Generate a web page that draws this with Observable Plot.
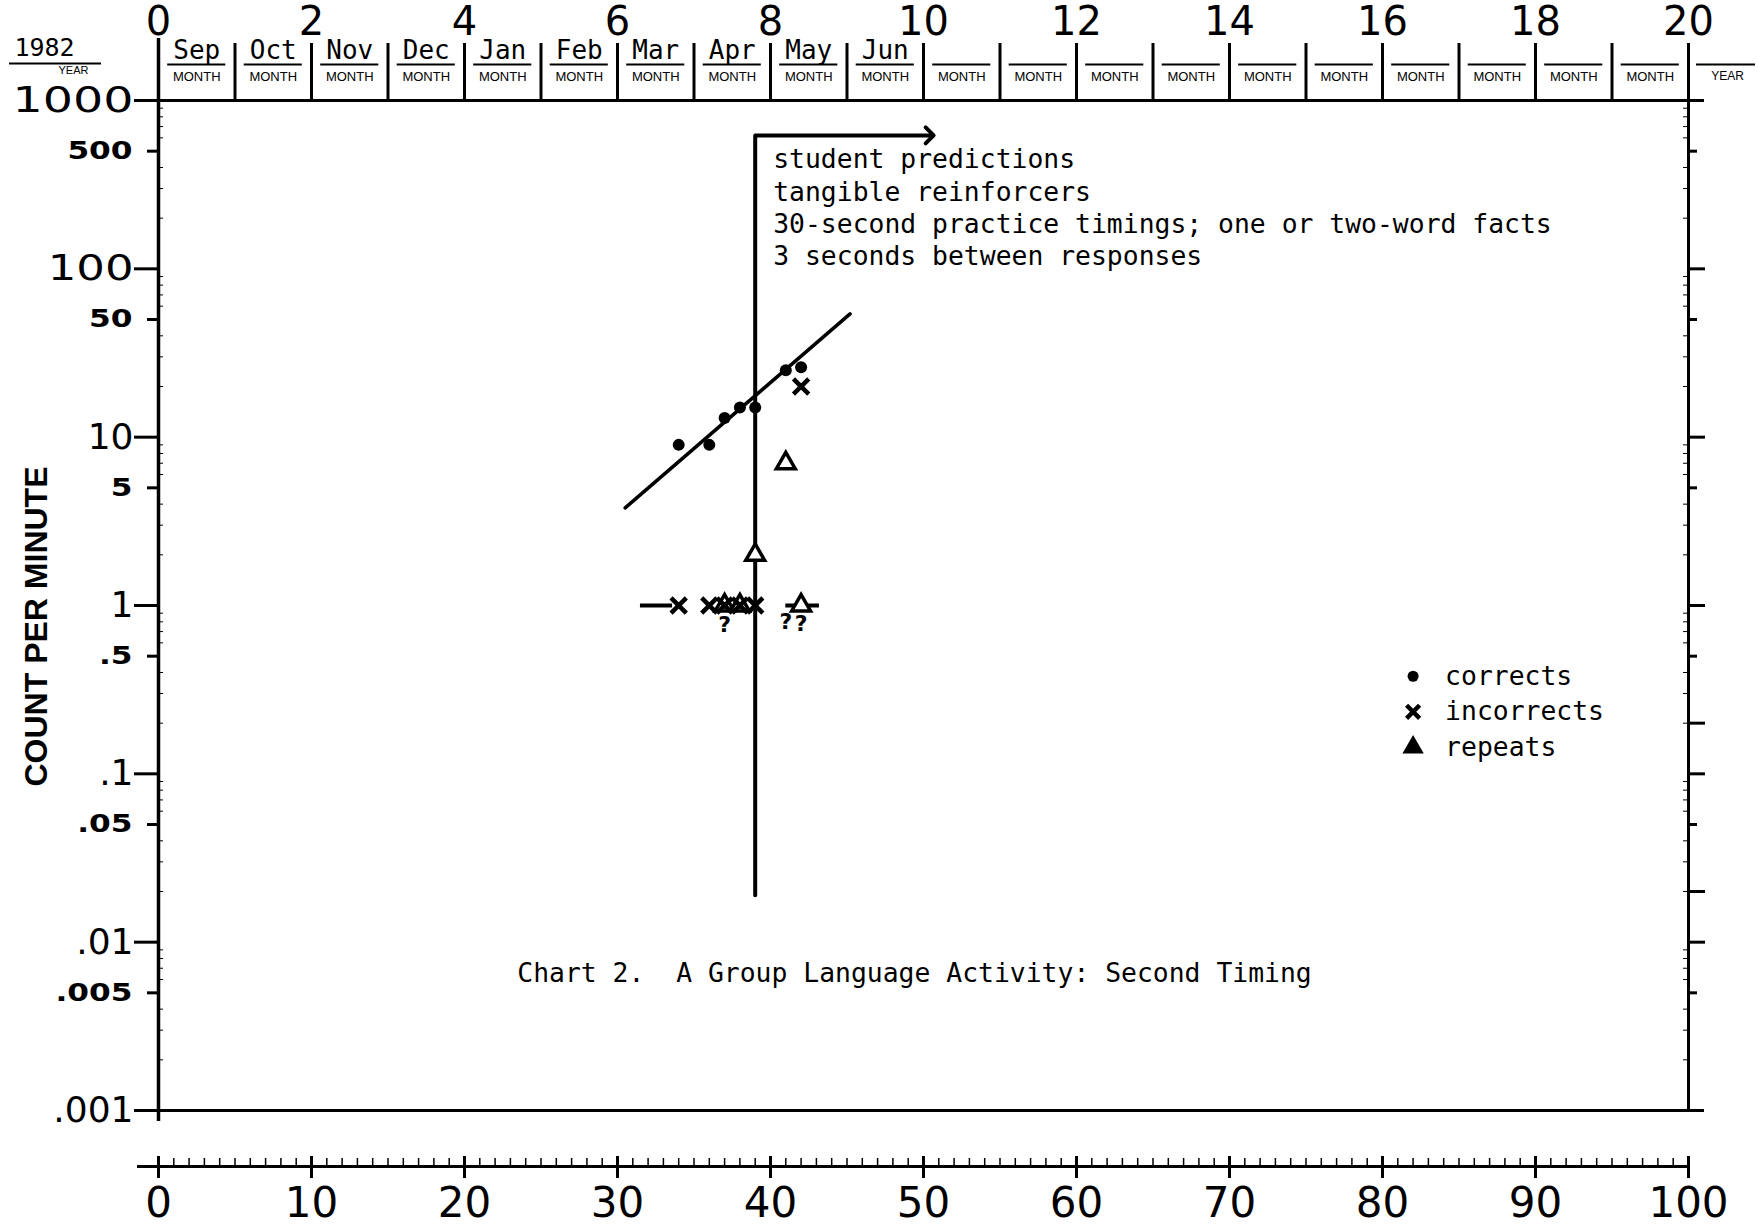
<!DOCTYPE html>
<html><head><meta charset="utf-8">
<script src="https://cdn.jsdelivr.net/npm/d3@7"></script>
<script src="https://cdn.jsdelivr.net/npm/@observablehq/plot@0.6"></script>
<style>
html,body{margin:0;padding:0;background:#fff;}
#chart svg text{white-space:pre;}
</style></head><body><div id="chart"></div>
<script>
// ---------- data ----------
const correctDays = [34, 36, 37, 38, 39, 41, 42];
const correctValues = [9, 9, 13, 15, 15, 25, 26];
const incorrectDays = [34, 36, 37, 38, 39, 42];
const incorrectValues = [1, 1, 1, 1, 1, 20];
const repeatDays = [37, 38, 39, 41, 42];
const repeatValues = [1, 1, 2, 7, 1];
const zeroDays = [37, 41, 42];          // "?" marks just below the record floor
const zeroValues = [0.77, 0.8, 0.78];
const floorStarts = [31.5, 41];         // record floor segments (days)
const floorEnds = [33.6, 43.2];
const recordFloor = 1;
const celerationDays = [30.5, 45.2];
const celerationValues = [3.8, 54];
const phaseDay = 39, phaseBottom = 0.019, phaseTop = 620, phaseArrowEnd = 50.4;

const annotationLines = [
  "student predictions",
  "tangible reinforcers",
  "30-second practice timings; one or two-word facts",
  "3 seconds between responses"
];
const caption = "Chart 2.  A Group Language Activity: Second Timing";
const legendLabels = ["corrects", "incorrects", "repeats"];
const yTitle = "COUNT PER MINUTE";

const monthNames = ["Sep","Oct","Nov","Dec","Jan","Feb","Mar","Apr","May","Jun","","","","","","","","","",""];
const yearLabel = "1982";
const weekTicks = [0, 2, 4, 6, 8, 10, 12, 14, 16, 18, 20];
const dayTicks = [0, 10, 20, 30, 40, 50, 60, 70, 80, 90, 100];
const yMajor = [1000, 100, 10, 1, 0.1, 0.01, 0.001];
const yMajorLabels = ["1000", "100", "10", "1", ".1", ".01", ".001"];
const yHalf = [500, 50, 5, 0.5, 0.05, 0.005];
const yHalfLabels = ["500", "50", "5", ".5", ".05", ".005"];
const rightExtraTicks = [0.2, 0.02];

// ---------- derived tick helpers ----------
const dailyTicks = d3.range(1, 100);
const boxEdges = d3.range(5, 100, 5);
const minorTicks = [];
[0.001, 0.01, 0.1, 1, 10, 100].forEach(dec => [2, 3, 4, 6, 7, 8, 9].forEach(m => minorTicks.push(dec * m)));

const W = 1758, H = 1228;
const MONO = "DejaVu Sans Mono";
const NUM = "DejaVu Sans";
const SANS = "Liberation Sans";

const legendDay = 82, legendY0 = 0.38, legendRatio = 0.615;

const plot = Plot.plot({
  width: W, height: H,
  marginTop: 100, marginBottom: 118, marginLeft: 158, marginRight: 70,
  x: {domain: [0, 100], axis: null},
  y: {type: "log", domain: [0.001, 1000], axis: null},
  style: {background: "white", color: "black", overflow: "visible"},
  marks: [
    // chart frame
    Plot.ruleY([1000], {insetRight: -16, strokeWidth: 3}),
    Plot.ruleY([0.001], {insetRight: -16, strokeWidth: 3}),
    Plot.ruleX([0], {insetTop: -62, insetBottom: -11, strokeWidth: 3.5}),
    Plot.ruleX([100], {insetTop: -57, strokeWidth: 3}),
    // header boxes
    Plot.ruleX(boxEdges, {x: d => d, y1: () => 1000, y2: () => 1000, insetBottom: 57, strokeWidth: 3}),
    Plot.ruleY(monthNames, {x1: (d, i) => 5 * i + 0.6, x2: (d, i) => 5 * i + 4.4, y: () => 1000, dy: -36, strokeWidth: 2}),
    Plot.text(monthNames, {x: (d, i) => 5 * i + 2.5, frameAnchor: "top", lineAnchor: "middle", dy: -50, text: d => d, fontFamily: MONO, fontSize: 26}),
    Plot.text(monthNames, {x: (d, i) => 5 * i + 2.5, frameAnchor: "top", lineAnchor: "middle", dy: -24, text: () => "MONTH", fontFamily: SANS, fontSize: 13}),
    Plot.text([yearLabel], {x: () => 0, frameAnchor: "top", lineAnchor: "middle", dx: -114, dy: -53, text: d => d, fontFamily: MONO, fontSize: 25}),
    Plot.ruleY([yearLabel], {x1: () => 0, x2: () => 0, y: () => 1000, insetLeft: -149, insetRight: 57, dy: -37, strokeWidth: 2}),
    Plot.text([yearLabel], {x: () => 0, frameAnchor: "top", lineAnchor: "middle", dx: -85, dy: -30, text: () => "YEAR", fontFamily: SANS, fontSize: 11}),
    Plot.ruleY(["YEAR"], {x1: () => 100, x2: () => 100, y: () => 1000, insetLeft: 8, insetRight: -67, dy: -36, strokeWidth: 2}),
    Plot.text(["YEAR"], {x: () => 100, frameAnchor: "top", lineAnchor: "middle", dx: 39, dy: -24, text: d => d, fontFamily: SANS, fontSize: 12}),
    Plot.text(weekTicks, {x: d => d * 5, frameAnchor: "top", lineAnchor: "middle", dy: -78, text: d => String(d), fontFamily: NUM, fontSize: 40}),
    // left axis ticks and labels
    Plot.ruleY(yMajor, {x1: () => 0, x2: () => 0, y: d => d, insetLeft: -24, strokeWidth: 3}),
    Plot.ruleY(yHalf, {x1: () => 0, x2: () => 0, y: d => d, insetLeft: -11, strokeWidth: 3}),
    Plot.ruleY(minorTicks, {x1: () => 0, x2: () => 0, y: d => d, insetRight: -5, strokeWidth: 1}),
    Plot.text(yMajor, {x: () => 0, y: d => d, text: (d, i) => yMajorLabels[i], textAnchor: "end", dx: -25, fontFamily: NUM, fontSize: 36, ariaDescription: "ymajor"}),
    Plot.text(yHalf, {x: () => 0, y: d => d, text: (d, i) => yHalfLabels[i], textAnchor: "end", dx: -26, fontFamily: NUM, fontWeight: "bold", fontSize: 24, ariaDescription: "yhalf"}),
    Plot.text([yTitle], {frameAnchor: "left", textAnchor: "middle", lineAnchor: "middle", dx: -122, dy: 21, rotate: -90, text: d => d, fontFamily: SANS, fontWeight: "bold", fontSize: 32}),
    // right axis ticks
    Plot.ruleY(yMajor.slice(1, -1).concat(rightExtraTicks), {x1: () => 100, x2: () => 100, y: d => d, insetRight: -17, strokeWidth: 3}),
    Plot.ruleY(yHalf, {x1: () => 100, x2: () => 100, y: d => d, insetRight: -9, strokeWidth: 3}),
    Plot.ruleY(minorTicks, {x1: () => 100, x2: () => 100, y: d => d, insetLeft: -5, strokeWidth: 1}),
    // bottom day axis
    Plot.ruleY([0.001], {dy: 56, insetLeft: -21, strokeWidth: 3}),
    Plot.ruleX(dailyTicks, {x: d => d, y1: () => 0.001, y2: () => 0.001, insetTop: 48, insetBottom: -56, strokeWidth: 1.5}),
    Plot.ruleX(dayTicks, {x: d => d, y1: () => 0.001, y2: () => 0.001, insetTop: 46, insetBottom: -68, strokeWidth: 3}),
    Plot.text(dayTicks, {x: d => d, frameAnchor: "bottom", lineAnchor: "middle", dy: 93, text: d => String(d), fontFamily: NUM, fontSize: 42}),
    // phase change line with arrow
    Plot.line([[phaseDay, phaseBottom], [phaseDay, phaseTop], [phaseArrowEnd, phaseTop]], {x: d => d[0], y: d => d[1], strokeWidth: 4, markerEnd: "arrow"}),
    Plot.text([annotationLines.join("\n")], {x: () => phaseDay, y: () => phaseTop, dx: 18, dy: 10, textAnchor: "start", lineAnchor: "top", lineHeight: 1.22, text: d => d, fontFamily: MONO, fontSize: 26.4}),
    // celeration line and record floor
    Plot.line(celerationDays, {x: d => d, y: (d, i) => celerationValues[i], strokeWidth: 3.5}),
    Plot.ruleY(floorStarts, {x1: d => d, x2: (d, i) => floorEnds[i], y: () => recordFloor, strokeWidth: 4}),
    // data
    Plot.dot(repeatDays, {x: d => d, y: (d, i) => repeatValues[i], symbol: "triangle", r: 7, fill: "white", stroke: "black", strokeWidth: 3.5}),
    Plot.dot(incorrectDays, {x: d => d, y: (d, i) => incorrectValues[i], symbol: "times", r: 7, stroke: "black", strokeWidth: 4.5}),
    Plot.dot(correctDays, {x: d => d, y: (d, i) => correctValues[i], r: 6, fill: "black"}),
    Plot.text(zeroDays, {x: d => d, y: (d, i) => zeroValues[i], text: () => "?", fontFamily: NUM, fontWeight: "bold", fontSize: 22}),
    // caption
    Plot.text([caption], {frameAnchor: "bottom", lineAnchor: "middle", dx: -9, dy: -137, text: d => d, fontFamily: MONO, fontSize: 26.4}),
    // legend
    Plot.dot([legendLabels[0]], {x: () => legendDay, y: () => legendY0, r: 5.5, fill: "black"}),
    Plot.dot([legendLabels[1]], {x: () => legendDay, y: () => legendY0 * legendRatio, symbol: "times", r: 6, stroke: "black", strokeWidth: 4.5}),
    Plot.dot([legendLabels[2]], {x: () => legendDay, y: () => legendY0 * legendRatio * legendRatio, symbol: "triangle", r: 6, fill: "black", stroke: "black", strokeWidth: 3}),
    Plot.text(legendLabels, {x: () => legendDay, y: (d, i) => legendY0 * Math.pow(legendRatio, i), dx: 32, textAnchor: "start", text: d => d, fontFamily: MONO, fontSize: 26.4})
  ]
});

document.getElementById("chart").appendChild(plot);

// widen the numeric glyphs of the y labels to the look of the chart paper
function stretch(label, scaleFor) {
  plot.querySelectorAll(`g[aria-description="${label}"] text`).forEach(t => {
    const tr = t.getAttribute("transform");
    const sx = scaleFor(t.textContent);
    if (tr && sx !== 1) t.setAttribute("transform", tr + ` scale(${sx},1)`);
  });
}
stretch("ymajor", s => s.startsWith(".") ? 1 : s.length === 4 ? 1.32 : s.length === 3 ? 1.25 : 1);
stretch("yhalf", () => 1.3);
</script>
</body></html>
